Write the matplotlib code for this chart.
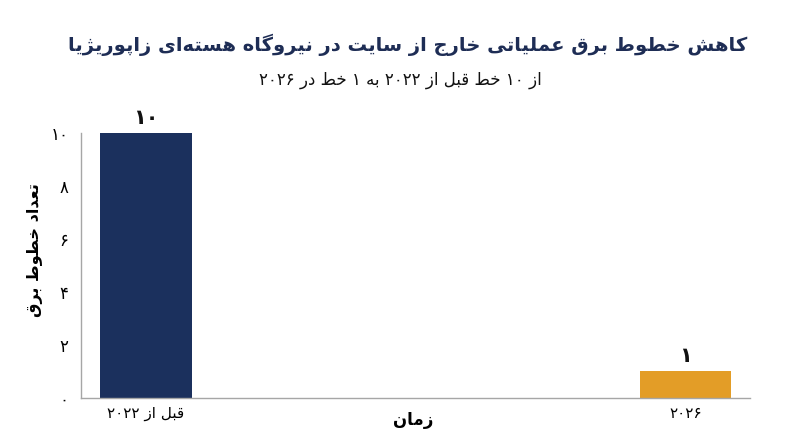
import re
import matplotlib
matplotlib.use('Agg')
import matplotlib.pyplot as plt

# data
categories = ['قبل از ۲۰۲۲', '۲۰۲۶']
line_counts = [10, 1]
value_labels = ['۱۰', '۱']
y_ticks = [0, 2, 4, 6, 8, 10]
y_tick_labels = ['۰', '۲', '۴', '۶', '۸', '۱۰']
bar_colors = ['#1b305d', '#e39d27']

title = 'کاهش خطوط برق عملیاتی خارج از سایت در نیروگاه هسته\u200cای زاپوریژیا'
subtitle = 'از ۱۰ خط قبل از ۲۰۲۲ به ۱ خط در ۲۰۲۶'
x_label = 'زمان'
y_label = 'تعداد خطوط برق'

# matplotlib has no arabic shaping, so pick presentation forms by hand
# (isolated, final, initial, medial); None = letter does not join forward
FORMS = {
    '\u0627': ('\uFE8D', '\uFE8E', None, None),
    '\u0622': ('\uFE81', '\uFE82', None, None),
    '\u0628': ('\uFE8F', '\uFE90', '\uFE91', '\uFE92'),
    '\u067E': ('\uFB56', '\uFB57', '\uFB58', '\uFB59'),
    '\u062A': ('\uFE95', '\uFE96', '\uFE97', '\uFE98'),
    '\u062B': ('\uFE99', '\uFE9A', '\uFE9B', '\uFE9C'),
    '\u062C': ('\uFE9D', '\uFE9E', '\uFE9F', '\uFEA0'),
    '\u0686': ('\uFB7A', '\uFB7B', '\uFB7C', '\uFB7D'),
    '\u062D': ('\uFEA1', '\uFEA2', '\uFEA3', '\uFEA4'),
    '\u062E': ('\uFEA5', '\uFEA6', '\uFEA7', '\uFEA8'),
    '\u062F': ('\uFEA9', '\uFEAA', None, None),
    '\u0630': ('\uFEAB', '\uFEAC', None, None),
    '\u0631': ('\uFEAD', '\uFEAE', None, None),
    '\u0632': ('\uFEAF', '\uFEB0', None, None),
    '\u0698': ('\uFB8A', '\uFB8B', None, None),
    '\u0633': ('\uFEB1', '\uFEB2', '\uFEB3', '\uFEB4'),
    '\u0634': ('\uFEB5', '\uFEB6', '\uFEB7', '\uFEB8'),
    '\u0635': ('\uFEB9', '\uFEBA', '\uFEBB', '\uFEBC'),
    '\u0636': ('\uFEBD', '\uFEBE', '\uFEBF', '\uFEC0'),
    '\u0637': ('\uFEC1', '\uFEC2', '\uFEC3', '\uFEC4'),
    '\u0638': ('\uFEC5', '\uFEC6', '\uFEC7', '\uFEC8'),
    '\u0639': ('\uFEC9', '\uFECA', '\uFECB', '\uFECC'),
    '\u063A': ('\uFECD', '\uFECE', '\uFECF', '\uFED0'),
    '\u0641': ('\uFED1', '\uFED2', '\uFED3', '\uFED4'),
    '\u0642': ('\uFED5', '\uFED6', '\uFED7', '\uFED8'),
    '\u06A9': ('\uFB8E', '\uFB8F', '\uFB90', '\uFB91'),
    '\u06AF': ('\uFB92', '\uFB93', '\uFB94', '\uFB95'),
    '\u0644': ('\uFEDD', '\uFEDE', '\uFEDF', '\uFEE0'),
    '\u0645': ('\uFEE1', '\uFEE2', '\uFEE3', '\uFEE4'),
    '\u0646': ('\uFEE5', '\uFEE6', '\uFEE7', '\uFEE8'),
    '\u0648': ('\uFEED', '\uFEEE', None, None),
    '\u0647': ('\uFEE9', '\uFEEA', '\uFEEB', '\uFEEC'),
    '\u06CC': ('\uFBFC', '\uFBFD', '\uFBFE', '\uFBFF'),
}


def shape(text):
    out = []
    for i, c in enumerate(text):
        if c not in FORMS:
            out.append(c)
            continue
        prev = text[i - 1] if i > 0 else ''
        nxt = text[i + 1] if i + 1 < len(text) else ''
        join_prev = prev in FORMS and FORMS[prev][2] is not None
        join_next = FORMS[c][2] is not None and nxt in FORMS
        iso, fin, ini, med = FORMS[c]
        if join_prev and join_next:
            out.append(med)
        elif join_prev:
            out.append(fin)
        elif join_next:
            out.append(ini)
        else:
            out.append(iso)
    return ''.join(out).replace('\u200c', '')


def rtl(text):
    s = shape(text)
    runs = re.findall(r'\d+|\D+', s)
    runs = [r if r[0].isdigit() else r[::-1] for r in runs]
    return ''.join(runs[::-1])


plt.rcParams['font.family'] = ['DejaVu Sans']

fig = plt.figure(figsize=(8, 4.47), dpi=100)
ax = fig.add_axes([0.101, 0.11, 0.837, 0.592])

x = list(range(len(categories)))
bars = ax.bar(x, line_counts, width=0.17, color=bar_colors)

for b, lab in zip(bars, value_labels):
    ax.text(b.get_x() + b.get_width() / 2, b.get_height() + 0.2, rtl(lab),
            ha='center', va='bottom', fontsize=15, fontweight='bold', color='#111111')

ax.set_xlim(-0.12, 1.12)
ax.set_ylim(0, 10)
ax.set_xticks(x)
ax.set_xticklabels([rtl(c) for c in categories], fontsize=11)
ax.set_yticks(y_ticks)
ax.set_yticklabels([rtl(t) for t in y_tick_labels], fontsize=12)
ax.tick_params(axis='x', length=0, pad=6)
ax.tick_params(axis='y', length=0, pad=9)

for side in ['top', 'right']:
    ax.spines[side].set_visible(False)
for side in ['left', 'bottom']:
    ax.spines[side].set_color('#a6a6a6')
    ax.spines[side].set_linewidth(1)

ax.set_xlabel(rtl(x_label), fontsize=12, fontweight='bold')
ax.xaxis.label.set_va('center')
ax.xaxis.set_label_coords(0.496, -0.085)
ax.set_ylabel(rtl(y_label), fontsize=11.5, fontweight='bold')
ax.yaxis.label.set_va('center')
ax.yaxis.set_label_coords(-0.069, 0.56)

fig.text(0.51, 0.9, rtl(title), ha='center', va='center', fontsize=14,
         fontweight='bold', color='#1e2d55')
fig.text(0.5, 0.82, rtl(subtitle), ha='center', va='center', fontsize=12,
         color='#111111')

fig.savefig('out.png', dpi=100, facecolor='white')
